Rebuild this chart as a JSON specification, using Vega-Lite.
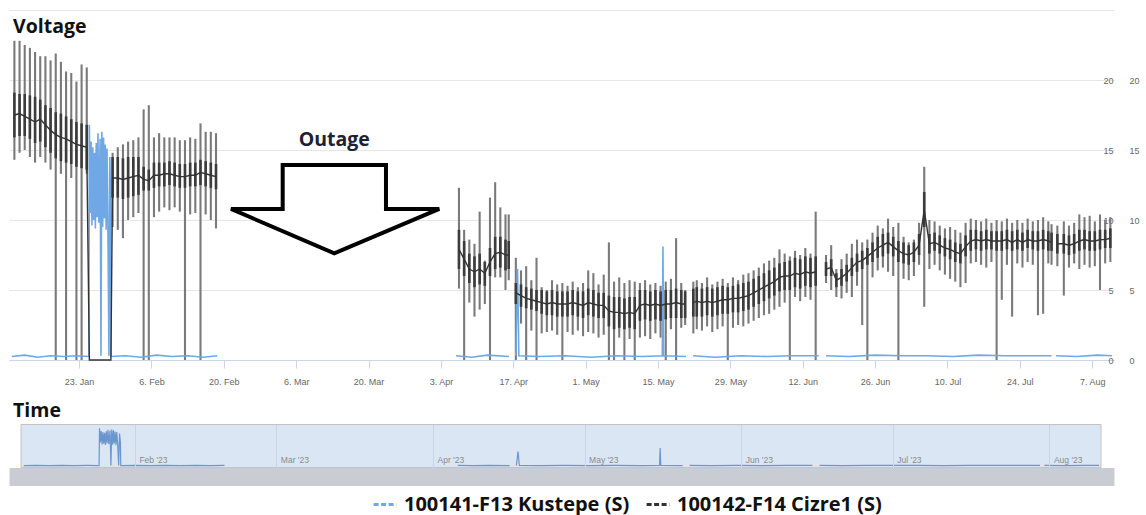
{
"$schema":"https://vega.github.io/schema/vega-lite/v6.json",
"padding":{"left":8,"top":10,"right":0,"bottom":0},
"background":"white",
"config":{"view":{"stroke":null},"axis":{"labelFont":"Liberation Sans"}},
"datasets":{
"cz":[
{"t":"2023-01-10T12:00","hi":22.8,"lo":14.3,"a":15.9,"b":19.1,"m":17.5,"s":1},
{"t":"2023-01-11T12:00","hi":22.8,"lo":14.8,"a":16,"b":19,"m":17.6,"s":1},
{"t":"2023-01-12T12:00","hi":22.5,"lo":15,"a":16,"b":19,"m":17.4,"s":1},
{"t":"2023-01-13T12:00","hi":22.3,"lo":14.5,"a":15.8,"b":18.9,"m":17.2,"s":1},
{"t":"2023-01-14T12:00","hi":22,"lo":14.1,"a":15.5,"b":18.8,"m":17,"s":1},
{"t":"2023-01-15T12:00","hi":21.7,"lo":14.5,"a":15.6,"b":18.6,"m":17.2,"s":1},
{"t":"2023-01-16T12:00","hi":21.7,"lo":14.1,"a":15.2,"b":18.2,"m":16.8,"s":1},
{"t":"2023-01-17T12:00","hi":21.4,"lo":13.6,"a":14.8,"b":18,"m":16.4,"s":1},
{"t":"2023-01-18T12:00","hi":21.9,"lo":0,"a":14.4,"b":17.7,"m":16.1,"s":1},
{"t":"2023-01-19T12:00","hi":21.3,"lo":13.3,"a":14.2,"b":17.6,"m":15.9,"s":1},
{"t":"2023-01-20T12:00","hi":20.6,"lo":0,"a":14.1,"b":17.4,"m":15.8,"s":1},
{"t":"2023-01-21T12:00","hi":20.5,"lo":13,"a":14,"b":17.2,"m":15.6,"s":1},
{"t":"2023-01-22T12:00","hi":19.9,"lo":0,"a":13.8,"b":17,"m":15.4,"s":1},
{"t":"2023-01-23T12:00","hi":21.1,"lo":0,"a":13.7,"b":16.9,"m":15.3,"s":1},
{"t":"2023-01-24T12:00","hi":20.9,"lo":13.3,"a":13.6,"b":16.8,"m":15.2,"s":1},
{"t":"2023-01-25T00:00","hi":0,"lo":0,"a":0,"b":0,"m":0,"s":1},
{"t":"2023-01-29T04:00","hi":0,"lo":0,"a":0,"b":0,"m":0,"s":1},
{"t":"2023-01-29T12:00","hi":14.8,"lo":9.5,"a":11.6,"b":14.5,"m":13,"s":1},
{"t":"2023-01-30T12:00","hi":15.2,"lo":9.3,"a":11.6,"b":14.5,"m":13,"s":1},
{"t":"2023-01-31T12:00","hi":15.4,"lo":8.7,"a":11.5,"b":14.4,"m":12.9,"s":1},
{"t":"2023-02-01T12:00","hi":15.6,"lo":10,"a":11.6,"b":14.5,"m":13,"s":1},
{"t":"2023-02-02T12:00","hi":15.7,"lo":10.2,"a":11.7,"b":14.5,"m":13.1,"s":1},
{"t":"2023-02-03T12:00","hi":15.9,"lo":10.5,"a":11.8,"b":14.5,"m":13.2,"s":1},
{"t":"2023-02-04T12:00","hi":17.9,"lo":0,"a":12.1,"b":13.8,"m":12.9,"s":1},
{"t":"2023-02-05T12:00","hi":18.2,"lo":0,"a":12.1,"b":13.6,"m":12.8,"s":1},
{"t":"2023-02-06T12:00","hi":15.9,"lo":10.2,"a":12.3,"b":14.1,"m":13.2,"s":1},
{"t":"2023-02-07T12:00","hi":16.2,"lo":10.6,"a":12.4,"b":14.1,"m":13.2,"s":1},
{"t":"2023-02-08T12:00","hi":15.9,"lo":10.9,"a":12.4,"b":14.1,"m":13.3,"s":1},
{"t":"2023-02-09T12:00","hi":15.9,"lo":10.7,"a":12.5,"b":14.2,"m":13.3,"s":1},
{"t":"2023-02-10T12:00","hi":15.9,"lo":10.9,"a":12.4,"b":14.1,"m":13.2,"s":1},
{"t":"2023-02-11T12:00","hi":15.7,"lo":10.6,"a":12.3,"b":14,"m":13.1,"s":1},
{"t":"2023-02-12T12:00","hi":15.7,"lo":0,"a":12.3,"b":14,"m":13.1,"s":1},
{"t":"2023-02-13T12:00","hi":15.9,"lo":10.4,"a":12.4,"b":14.1,"m":13.2,"s":1},
{"t":"2023-02-14T12:00","hi":15.8,"lo":10.5,"a":12.4,"b":14.1,"m":13.2,"s":1},
{"t":"2023-02-15T12:00","hi":16.9,"lo":0,"a":12.5,"b":14.3,"m":13.4,"s":1},
{"t":"2023-02-16T12:00","hi":16.3,"lo":10.4,"a":12.4,"b":14.2,"m":13.3,"s":1},
{"t":"2023-02-17T12:00","hi":16.3,"lo":10,"a":12.3,"b":14.1,"m":13.2,"s":1},
{"t":"2023-02-18T12:00","hi":16.2,"lo":9.4,"a":12.2,"b":14,"m":13.1,"s":1},
{"t":"2023-04-06T12:00","hi":12.3,"lo":5.1,"a":6.5,"b":9.3,"m":7.9,"s":2},
{"t":"2023-04-07T12:00","hi":9.3,"lo":0,"a":6,"b":8.5,"m":7.2,"s":2},
{"t":"2023-04-08T12:00","hi":8.6,"lo":4.1,"a":5.5,"b":7.6,"m":6.5,"s":2},
{"t":"2023-04-09T12:00","hi":8.3,"lo":3.1,"a":5.2,"b":7.4,"m":6.3,"s":2},
{"t":"2023-04-10T12:00","hi":10.6,"lo":3.6,"a":5.4,"b":7.6,"m":6.5,"s":2},
{"t":"2023-04-11T12:00","hi":7.1,"lo":4,"a":5.3,"b":7,"m":6.2,"s":2},
{"t":"2023-04-12T12:00","hi":11.6,"lo":0,"a":6,"b":8,"m":7,"s":2},
{"t":"2023-04-13T12:00","hi":12.7,"lo":5.9,"a":6.5,"b":8.8,"m":7.6,"s":2},
{"t":"2023-04-14T12:00","hi":10.9,"lo":5.9,"a":6.6,"b":8.8,"m":7.7,"s":2},
{"t":"2023-04-15T12:00","hi":10.4,"lo":5,"a":6.4,"b":8.6,"m":7.5,"s":2},
{"t":"2023-04-16T03:00","hi":10.4,"lo":5.7,"a":6.5,"b":8.5,"m":7.5,"s":2},
{"t":"2023-04-17T12:00","hi":7.3,"lo":0,"a":4,"b":5.5,"m":4.8,"s":3},
{"t":"2023-04-18T12:00","hi":6.4,"lo":2.6,"a":3.8,"b":5.4,"m":4.6,"s":3},
{"t":"2023-04-19T12:00","hi":6.7,"lo":0,"a":3.7,"b":5.2,"m":4.4,"s":3},
{"t":"2023-04-20T12:00","hi":5.7,"lo":2.1,"a":3.6,"b":5.1,"m":4.3,"s":3},
{"t":"2023-04-21T12:00","hi":7.3,"lo":0,"a":3.5,"b":5,"m":4.2,"s":3},
{"t":"2023-04-22T12:00","hi":5.2,"lo":1.9,"a":3.3,"b":5,"m":4.1,"s":3},
{"t":"2023-04-23T12:00","hi":5,"lo":2,"a":3.2,"b":4.9,"m":4,"s":3},
{"t":"2023-04-24T12:00","hi":5.7,"lo":2.1,"a":3.2,"b":5,"m":4.1,"s":3},
{"t":"2023-04-25T12:00","hi":5.4,"lo":1.8,"a":3.1,"b":4.9,"m":4,"s":3},
{"t":"2023-04-26T12:00","hi":5.5,"lo":0,"a":3.1,"b":4.9,"m":4,"s":3},
{"t":"2023-04-27T12:00","hi":5.3,"lo":2,"a":3.1,"b":4.9,"m":4,"s":3},
{"t":"2023-04-28T12:00","hi":5.6,"lo":1.8,"a":3.2,"b":5,"m":4.1,"s":3},
{"t":"2023-04-29T12:00","hi":5.2,"lo":2.1,"a":3.1,"b":4.9,"m":4,"s":3},
{"t":"2023-04-30T12:00","hi":5.5,"lo":1.7,"a":3,"b":4.9,"m":3.9,"s":3},
{"t":"2023-05-01T12:00","hi":6.4,"lo":2,"a":3.2,"b":5.1,"m":4.1,"s":3},
{"t":"2023-05-02T12:00","hi":6.2,"lo":1.9,"a":3.1,"b":5,"m":4,"s":3},
{"t":"2023-05-03T12:00","hi":5.4,"lo":1.6,"a":3,"b":4.8,"m":3.9,"s":3},
{"t":"2023-05-04T12:00","hi":6.1,"lo":1.8,"a":3,"b":4.8,"m":3.9,"s":3},
{"t":"2023-05-05T12:00","hi":8.4,"lo":0,"a":2.4,"b":4.6,"m":3.5,"s":3},
{"t":"2023-05-06T12:00","hi":5.6,"lo":0,"a":2.2,"b":4.5,"m":3.4,"s":3},
{"t":"2023-05-07T12:00","hi":5.9,"lo":1.6,"a":2.3,"b":4.5,"m":3.4,"s":3},
{"t":"2023-05-08T12:00","hi":5.5,"lo":0,"a":2.2,"b":4.4,"m":3.3,"s":3},
{"t":"2023-05-09T12:00","hi":5.7,"lo":1.5,"a":2.3,"b":4.5,"m":3.4,"s":3},
{"t":"2023-05-10T12:00","hi":5.6,"lo":0,"a":2.2,"b":4.5,"m":3.3,"s":3},
{"t":"2023-05-11T12:00","hi":5.5,"lo":1.6,"a":2.8,"b":5,"m":3.9,"s":3},
{"t":"2023-05-12T12:00","hi":5.7,"lo":1.7,"a":2.9,"b":5,"m":4,"s":3},
{"t":"2023-05-13T12:00","hi":5.4,"lo":1.5,"a":2.8,"b":4.9,"m":3.9,"s":3},
{"t":"2023-05-14T12:00","hi":5.5,"lo":1.9,"a":2.9,"b":5,"m":4,"s":3},
{"t":"2023-05-15T12:00","hi":5.3,"lo":1.6,"a":2.8,"b":4.9,"m":3.9,"s":3},
{"t":"2023-05-16T12:00","hi":5.6,"lo":0,"a":2.9,"b":5,"m":4,"s":3},
{"t":"2023-05-17T12:00","hi":5.8,"lo":2.2,"a":3,"b":5,"m":4,"s":3},
{"t":"2023-05-18T12:00","hi":8.7,"lo":0,"a":3,"b":5.1,"m":4.1,"s":3},
{"t":"2023-05-19T12:00","hi":5.5,"lo":2.3,"a":3,"b":5,"m":4,"s":3},
{"t":"2023-05-20T06:00","hi":5,"lo":2.5,"a":3,"b":4.9,"m":4,"s":3},
{"t":"2023-05-21T20:00","hi":5.6,"lo":1.9,"a":3.1,"b":5.1,"m":4.1,"s":4},
{"t":"2023-05-22T12:00","hi":5.7,"lo":2.2,"a":3.1,"b":5.2,"m":4.2,"s":4},
{"t":"2023-05-23T12:00","hi":5.5,"lo":2.1,"a":3.1,"b":5.1,"m":4.1,"s":4},
{"t":"2023-05-24T12:00","hi":5.9,"lo":2.4,"a":3.2,"b":5.2,"m":4.2,"s":4},
{"t":"2023-05-25T12:00","hi":5.4,"lo":2,"a":3.1,"b":5.1,"m":4.1,"s":4},
{"t":"2023-05-26T12:00","hi":5.6,"lo":2.2,"a":3.2,"b":5.2,"m":4.2,"s":4},
{"t":"2023-05-27T12:00","hi":5.8,"lo":2.4,"a":3.3,"b":5.3,"m":4.3,"s":4},
{"t":"2023-05-28T12:00","hi":5.5,"lo":0,"a":3.3,"b":5.2,"m":4.3,"s":4},
{"t":"2023-05-29T12:00","hi":5.9,"lo":2.3,"a":3.4,"b":5.3,"m":4.4,"s":4},
{"t":"2023-05-30T12:00","hi":5.7,"lo":2.5,"a":3.4,"b":5.4,"m":4.4,"s":4},
{"t":"2023-05-31T12:00","hi":6.1,"lo":2.4,"a":3.5,"b":5.5,"m":4.5,"s":4},
{"t":"2023-06-01T12:00","hi":6.2,"lo":2.6,"a":3.6,"b":5.6,"m":4.6,"s":4},
{"t":"2023-06-02T12:00","hi":6.4,"lo":2.8,"a":3.8,"b":5.8,"m":4.8,"s":4},
{"t":"2023-06-03T12:00","hi":6.6,"lo":3,"a":4,"b":6,"m":5,"s":4},
{"t":"2023-06-04T12:00","hi":6.9,"lo":3.2,"a":4.2,"b":6.2,"m":5.2,"s":4},
{"t":"2023-06-05T12:00","hi":7.1,"lo":3.3,"a":4.4,"b":6.4,"m":5.4,"s":4},
{"t":"2023-06-06T12:00","hi":7.3,"lo":3.6,"a":4.6,"b":6.6,"m":5.6,"s":4},
{"t":"2023-06-07T12:00","hi":7.9,"lo":3.8,"a":4.9,"b":6.9,"m":5.9,"s":4},
{"t":"2023-06-08T12:00","hi":7.6,"lo":4.1,"a":5,"b":7,"m":6,"s":4},
{"t":"2023-06-09T12:00","hi":7.4,"lo":0,"a":5,"b":7.1,"m":6,"s":4},
{"t":"2023-06-10T12:00","hi":7.8,"lo":4.5,"a":5.2,"b":7.3,"m":6.2,"s":4},
{"t":"2023-06-11T12:00","hi":7.5,"lo":4.2,"a":5.1,"b":7.2,"m":6.1,"s":4},
{"t":"2023-06-12T12:00","hi":8,"lo":4.5,"a":5.3,"b":7.4,"m":6.3,"s":4},
{"t":"2023-06-13T12:00","hi":7.6,"lo":4.3,"a":5.2,"b":7.3,"m":6.2,"s":4},
{"t":"2023-06-14T12:00","hi":10.6,"lo":0,"a":5.3,"b":7.4,"m":6.3,"s":4},
{"t":"2023-06-16T12:00","hi":7.5,"lo":5.5,"a":6,"b":7,"m":6.5,"s":5},
{"t":"2023-06-17T12:00","hi":8.2,"lo":5,"a":6,"b":7.2,"m":6.6,"s":5},
{"t":"2023-06-18T12:00","hi":6.5,"lo":4.5,"a":5.2,"b":6.2,"m":5.7,"s":5},
{"t":"2023-06-19T12:00","hi":7.2,"lo":4.4,"a":5.3,"b":6.5,"m":5.9,"s":5},
{"t":"2023-06-20T12:00","hi":7.6,"lo":4.8,"a":5.6,"b":6.8,"m":6.2,"s":5},
{"t":"2023-06-21T12:00","hi":8.3,"lo":4.5,"a":6,"b":7.3,"m":6.6,"s":5},
{"t":"2023-06-22T12:00","hi":8.6,"lo":5.3,"a":6.3,"b":7.6,"m":7,"s":5},
{"t":"2023-06-23T12:00","hi":8.4,"lo":2.5,"a":6.5,"b":7.8,"m":7.1,"s":5},
{"t":"2023-06-24T12:00","hi":8.6,"lo":0,"a":6.8,"b":8,"m":7.4,"s":5},
{"t":"2023-06-25T12:00","hi":9.1,"lo":5.9,"a":7,"b":8.4,"m":7.7,"s":5},
{"t":"2023-06-26T12:00","hi":9.6,"lo":6.4,"a":7.3,"b":8.8,"m":8,"s":5},
{"t":"2023-06-27T12:00","hi":9.4,"lo":6.6,"a":7.4,"b":9,"m":8.2,"s":5},
{"t":"2023-06-28T12:00","hi":10.1,"lo":6.3,"a":7.6,"b":9.1,"m":8.4,"s":5},
{"t":"2023-06-29T12:00","hi":9.5,"lo":6,"a":7.4,"b":8.8,"m":8.1,"s":5},
{"t":"2023-06-30T12:00","hi":9.8,"lo":0,"a":7,"b":8.5,"m":7.8,"s":5},
{"t":"2023-07-01T12:00","hi":8.8,"lo":5.8,"a":6.9,"b":8.4,"m":7.6,"s":5},
{"t":"2023-07-02T12:00","hi":8.4,"lo":5.7,"a":6.8,"b":8.2,"m":7.5,"s":5},
{"t":"2023-07-03T12:00","hi":8.6,"lo":6,"a":7,"b":8.4,"m":7.7,"s":5},
{"t":"2023-07-04T12:00","hi":9.8,"lo":6.8,"a":7.5,"b":9,"m":8.2,"s":5},
{"t":"2023-07-05T12:00","hi":13.8,"lo":3.8,"a":9.5,"b":12,"m":10.7,"s":5},
{"t":"2023-07-06T12:00","hi":10,"lo":6.5,"a":7.6,"b":9,"m":8.3,"s":5},
{"t":"2023-07-07T12:00","hi":9.9,"lo":6.8,"a":7.8,"b":9.1,"m":8.4,"s":5},
{"t":"2023-07-08T12:00","hi":9.6,"lo":6.4,"a":7.6,"b":8.9,"m":8.2,"s":5},
{"t":"2023-07-09T12:00","hi":9.4,"lo":6.1,"a":7.4,"b":8.7,"m":8,"s":5},
{"t":"2023-07-10T12:00","hi":9.5,"lo":5.8,"a":7.2,"b":8.6,"m":7.9,"s":5},
{"t":"2023-07-11T12:00","hi":9.3,"lo":5.6,"a":7,"b":8.4,"m":7.7,"s":5},
{"t":"2023-07-12T12:00","hi":9.1,"lo":5.2,"a":6.9,"b":8.3,"m":7.6,"s":5},
{"t":"2023-07-13T12:00","hi":9.8,"lo":5.5,"a":7.4,"b":8.9,"m":8.1,"s":5},
{"t":"2023-07-14T12:00","hi":10.1,"lo":6.9,"a":7.8,"b":9.3,"m":8.5,"s":5},
{"t":"2023-07-15T12:00","hi":10,"lo":7,"a":7.9,"b":9.3,"m":8.6,"s":5},
{"t":"2023-07-16T12:00","hi":9.9,"lo":6.8,"a":7.8,"b":9.2,"m":8.5,"s":5},
{"t":"2023-07-17T12:00","hi":10.1,"lo":6.6,"a":7.9,"b":9.3,"m":8.6,"s":5},
{"t":"2023-07-18T12:00","hi":9.8,"lo":7,"a":7.9,"b":9.2,"m":8.5,"s":5},
{"t":"2023-07-19T12:00","hi":10,"lo":0,"a":7.8,"b":9.2,"m":8.5,"s":5},
{"t":"2023-07-20T12:00","hi":9.9,"lo":4.3,"a":7.8,"b":9.2,"m":8.5,"s":5},
{"t":"2023-07-21T12:00","hi":10.1,"lo":6.8,"a":7.9,"b":9.3,"m":8.6,"s":5},
{"t":"2023-07-22T12:00","hi":9.8,"lo":3.1,"a":7.8,"b":9.2,"m":8.4,"s":5},
{"t":"2023-07-23T12:00","hi":10,"lo":6.9,"a":7.9,"b":9.3,"m":8.6,"s":5},
{"t":"2023-07-24T12:00","hi":9.8,"lo":6.6,"a":7.8,"b":9.1,"m":8.4,"s":5},
{"t":"2023-07-25T12:00","hi":10.1,"lo":7,"a":8,"b":9.3,"m":8.6,"s":5},
{"t":"2023-07-26T12:00","hi":9.9,"lo":6.8,"a":7.9,"b":9.2,"m":8.5,"s":5},
{"t":"2023-07-27T12:00","hi":10,"lo":3.2,"a":7.8,"b":9.2,"m":8.5,"s":5},
{"t":"2023-07-28T12:00","hi":10.2,"lo":3.3,"a":7.9,"b":9.3,"m":8.6,"s":5},
{"t":"2023-07-29T12:00","hi":9.9,"lo":6.9,"a":7.8,"b":9.2,"m":8.5,"s":5},
{"t":"2023-07-30T03:00","hi":9.7,"lo":6.8,"a":7.8,"b":9.1,"m":8.4,"s":5},
{"t":"2023-07-31T06:00","hi":9.6,"lo":6.7,"a":7.6,"b":9,"m":8.3,"s":6},
{"t":"2023-08-01T12:00","hi":9.9,"lo":4.6,"a":7.6,"b":9,"m":8.3,"s":6},
{"t":"2023-08-02T12:00","hi":9.6,"lo":6.6,"a":7.5,"b":8.9,"m":8.2,"s":6},
{"t":"2023-08-03T12:00","hi":9.8,"lo":6.9,"a":7.6,"b":9,"m":8.3,"s":6},
{"t":"2023-08-04T12:00","hi":10.4,"lo":6.5,"a":7.8,"b":9.3,"m":8.5,"s":6},
{"t":"2023-08-05T12:00","hi":10.2,"lo":6.8,"a":7.9,"b":9.3,"m":8.6,"s":6},
{"t":"2023-08-06T12:00","hi":10.3,"lo":6.6,"a":7.8,"b":9.2,"m":8.5,"s":6},
{"t":"2023-08-07T12:00","hi":9.9,"lo":6.7,"a":7.8,"b":9.2,"m":8.5,"s":6},
{"t":"2023-08-08T12:00","hi":10.4,"lo":5,"a":7.9,"b":9.3,"m":8.6,"s":6},
{"t":"2023-08-09T12:00","hi":10,"lo":6.9,"a":8,"b":9.3,"m":8.6,"s":6},
{"t":"2023-08-10T12:00","hi":10.2,"lo":7,"a":8,"b":9.4,"m":8.7,"s":6}
],
"ku":[
{"t":"2023-01-10T00:00","v":0.25,"s":1},
{"t":"2023-01-12T12:00","v":0.35,"s":1},
{"t":"2023-01-15T00:00","v":0.2,"s":1},
{"t":"2023-01-17T12:00","v":0.3,"s":1},
{"t":"2023-01-20T00:00","v":0.25,"s":1},
{"t":"2023-01-22T12:00","v":0.3,"s":1},
{"t":"2023-01-24T22:00","v":0.25,"s":1},
{"t":"2023-01-25T00:00","v":16.8,"s":1},
{"t":"2023-01-25T04:00","v":10.5,"s":1},
{"t":"2023-01-25T08:00","v":15.6,"s":1},
{"t":"2023-01-25T12:00","v":9.6,"s":1},
{"t":"2023-01-25T16:00","v":15.2,"s":1},
{"t":"2023-01-25T20:00","v":10,"s":1},
{"t":"2023-01-26T00:00","v":14.8,"s":1},
{"t":"2023-01-26T04:00","v":9.4,"s":1},
{"t":"2023-01-26T08:00","v":15.5,"s":1},
{"t":"2023-01-26T12:00","v":10.2,"s":1},
{"t":"2023-01-26T16:00","v":16.2,"s":1},
{"t":"2023-01-26T20:00","v":9.8,"s":1},
{"t":"2023-01-27T02:00","v":15.8,"s":1},
{"t":"2023-01-27T06:00","v":0.3,"s":1},
{"t":"2023-01-27T10:00","v":16.3,"s":1},
{"t":"2023-01-27T14:00","v":9.5,"s":1},
{"t":"2023-01-27T18:00","v":15.9,"s":1},
{"t":"2023-01-27T22:00","v":10.1,"s":1},
{"t":"2023-01-28T02:00","v":15.4,"s":1},
{"t":"2023-01-28T06:00","v":9.3,"s":1},
{"t":"2023-01-28T10:00","v":15.1,"s":1},
{"t":"2023-01-28T14:00","v":9.9,"s":1},
{"t":"2023-01-28T19:00","v":0.3,"s":1},
{"t":"2023-01-28T23:00","v":14.5,"s":1},
{"t":"2023-01-29T03:00","v":10.8,"s":1},
{"t":"2023-01-29T05:00","v":0.25,"s":1},
{"t":"2023-02-01T00:00","v":0.3,"s":1},
{"t":"2023-02-04T00:00","v":0.2,"s":1},
{"t":"2023-02-07T00:00","v":0.35,"s":1},
{"t":"2023-02-10T00:00","v":0.25,"s":1},
{"t":"2023-02-13T00:00","v":0.3,"s":1},
{"t":"2023-02-16T00:00","v":0.2,"s":1},
{"t":"2023-02-18T18:00","v":0.3,"s":1},
{"t":"2023-04-05T22:00","v":0.3,"s":2},
{"t":"2023-04-09T00:00","v":0.2,"s":2},
{"t":"2023-04-12T00:00","v":0.35,"s":2},
{"t":"2023-04-16T04:00","v":0.25,"s":2},
{"t":"2023-04-17T12:00","v":0.3,"s":3},
{"t":"2023-04-17T20:00","v":6.5,"s":3},
{"t":"2023-04-18T02:00","v":0.3,"s":3},
{"t":"2023-04-22T00:00","v":0.25,"s":3},
{"t":"2023-04-27T00:00","v":0.3,"s":3},
{"t":"2023-05-02T00:00","v":0.2,"s":3},
{"t":"2023-05-07T00:00","v":0.3,"s":3},
{"t":"2023-05-12T00:00","v":0.25,"s":3},
{"t":"2023-05-15T20:00","v":0.3,"s":3},
{"t":"2023-05-15T23:00","v":8.1,"s":3},
{"t":"2023-05-16T02:00","v":0.3,"s":3},
{"t":"2023-05-20T10:00","v":0.25,"s":3},
{"t":"2023-05-21T19:00","v":0.3,"s":4},
{"t":"2023-05-26T00:00","v":0.2,"s":4},
{"t":"2023-05-31T00:00","v":0.3,"s":4},
{"t":"2023-06-05T00:00","v":0.25,"s":4},
{"t":"2023-06-10T00:00","v":0.3,"s":4},
{"t":"2023-06-15T02:00","v":0.3,"s":4},
{"t":"2023-06-16T12:00","v":0.3,"s":5},
{"t":"2023-06-21T00:00","v":0.25,"s":5},
{"t":"2023-06-26T00:00","v":0.35,"s":5},
{"t":"2023-07-01T00:00","v":0.3,"s":5},
{"t":"2023-07-06T00:00","v":0.3,"s":5},
{"t":"2023-07-11T00:00","v":0.25,"s":5},
{"t":"2023-07-16T00:00","v":0.35,"s":5},
{"t":"2023-07-21T00:00","v":0.3,"s":5},
{"t":"2023-07-26T00:00","v":0.3,"s":5},
{"t":"2023-07-30T03:00","v":0.3,"s":5},
{"t":"2023-07-31T00:00","v":0.3,"s":6},
{"t":"2023-08-04T00:00","v":0.25,"s":6},
{"t":"2023-08-08T00:00","v":0.35,"s":6},
{"t":"2023-08-10T20:00","v":0.3,"s":6}
],
"arrow":[
{"i":0,"t":"2023-03-03T09:36","v":13.93},
{"i":1,"t":"2023-03-23T09:07","v":13.93},
{"i":2,"t":"2023-03-23T09:07","v":10.79},
{"i":3,"t":"2023-04-02T16:33","v":10.79},
{"i":4,"t":"2023-03-13T09:07","v":7.62},
{"i":5,"t":"2023-02-21T09:36","v":10.79},
{"i":6,"t":"2023-03-03T09:36","v":10.79},
{"i":7,"t":"2023-03-03T09:36","v":13.93}
],
"head":[
{"t":"2023-02-21T09:36","v":10.79,"w":10.79},
{"t":"2023-03-13T09:07","v":10.79,"w":7.62},
{"t":"2023-04-02T16:33","v":10.79,"w":10.79}
]
},
"spacing":14.5,
"resolve":{"scale":{"x":"independent","y":"independent","color":"shared"},"axis":{"x":"independent","y":"independent"},"legend":{"color":"shared"}},
"vconcat":[
{
"width":1105,"height":350,
"layer":[
{"layer":[
{"data":{"name":"cz"},"mark":{"type":"rule","color":"#7a7a7a","strokeWidth":2.1},
"encoding":{
"x":{"field":"t","type":"temporal","scale":{"domain":[{"year":2023,"month":"jan","date":9,"hours":11},{"year":2023,"month":"aug","date":11,"hours":5}]},
"axis":{"title":null,"values":[{"year":2023,"month":"jan","date":23},{"year":2023,"month":"feb","date":6},{"year":2023,"month":"feb","date":20},{"year":2023,"month":"mar","date":6},{"year":2023,"month":"mar","date":20},{"year":2023,"month":"apr","date":3},{"year":2023,"month":"apr","date":17},{"year":2023,"month":"may","date":1},{"year":2023,"month":"may","date":15},{"year":2023,"month":"may","date":29},{"year":2023,"month":"jun","date":12},{"year":2023,"month":"jun","date":26},{"year":2023,"month":"jul","date":10},{"year":2023,"month":"jul","date":24},{"year":2023,"month":"aug","date":7}],
"format":"%-d. %b","labelFontSize":9,"labelColor":"#666666","tickColor":"#ccd6eb","tickSize":8,"domainColor":"#ccd6eb","labelPadding":9,"grid":false,"labelFlush":false}},
"y":{"field":"lo","type":"quantitative","scale":{"domain":[0,25],"nice":false},
"axis":{"title":null,"orient":"right","values":[0,5,10,15,20,25],"labelExpr":"datum.value == 25 ? '' : datum.label","grid":true,"gridColor":"#e6e6e6","domain":false,"ticks":false,"tickSize":0,"labelAlign":"right","labelPadding":-1,"labelFontSize":9,"labelColor":"#666666"}},
"y2":{"field":"hi"}}},
{"data":{"name":"ku"},"mark":{"type":"line","strokeWidth":1.6},
"encoding":{"x":{"field":"t","type":"temporal"},"y":{"field":"v","type":"quantitative"},"detail":{"field":"s"},
"color":{"datum":"100141-F13 Kustepe (S)","type":"nominal","scale":{"domain":["100141-F13 Kustepe (S)","100142-F14 Cizre1 (S)"],"range":["#6fa8e4","#333333"]},
"legend":{"title":null,"orient":"none","legendX":363,"legendY":481.5,"direction":"horizontal","symbolType":"stroke","symbolStrokeWidth":3,"symbolSize":520,"symbolDash":[5,2.5],"labelFont":"Open Sans","labelFontSize":20,"labelFontWeight":"bold","labelColor":"#111111","labelLimit":0,"columnPadding":10,"labelOffset":6,"padding":0}}}},
{"data":{"name":"cz"},"mark":{"type":"rule","color":"#3c3c3c","strokeWidth":2.6},
"encoding":{"x":{"field":"t","type":"temporal"},"y":{"field":"a","type":"quantitative"},"y2":{"field":"b"}}},
{"data":{"name":"cz"},"mark":{"type":"line","strokeWidth":1.4},
"encoding":{"x":{"field":"t","type":"temporal"},"y":{"field":"m","type":"quantitative"},"detail":{"field":"s"},"color":{"datum":"100142-F14 Cizre1 (S)","type":"nominal"}}},
{"data":{"name":"head"},"mark":{"type":"area","color":"white","opacity":1},
"encoding":{"x":{"field":"t","type":"temporal"},"y":{"field":"v","type":"quantitative"},"y2":{"field":"w"}}},
{"data":{"name":"arrow"},"mark":{"type":"line","color":"#000000","strokeWidth":4,"strokeJoin":"miter","strokeCap":"square"},
"encoding":{"x":{"field":"t","type":"temporal"},"y":{"field":"v","type":"quantitative"},"order":{"field":"i","type":"quantitative"}}},
{"data":{"values":[{}]},"mark":{"type":"text","text":"Outage","fontSize":19.5,"fontWeight":"bold","font":"Open Sans","color":"#1c2233","baseline":"middle","align":"center"},
"encoding":{"x":{"datum":{"year":2023,"month":"mar","date":13,"hours":9},"type":"temporal"},"y":{"datum":15.7,"type":"quantitative"}}},
{"data":{"values":[{}]},"mark":{"type":"text","text":"Voltage","fontSize":19.5,"fontWeight":"bold","font":"Open Sans","color":"#111111","baseline":"alphabetic","align":"left","dx":4},
"encoding":{"x":{"datum":{"year":2023,"month":"jan","date":9,"hours":11},"type":"temporal"},"y":{"datum":23.36,"type":"quantitative"}}}
]},
{"data":{"name":"cz"},"mark":{"type":"point","opacity":0},
"encoding":{"x":{"field":"t","type":"temporal"},"y":{"field":"hi","type":"quantitative","scale":{"domain":[0,25],"nice":false},
"axis":{"title":null,"orient":"right","values":[0,5,10,15,20,25],"labelExpr":"datum.value == 25 ? '' : datum.label","grid":false,"domain":false,"ticks":false,"tickSize":0,"labelAlign":"left","labelPadding":15,"labelFontSize":9,"labelColor":"#666666"}}}}
],
"resolve":{"scale":{"y":"independent"},"axis":{"y":"independent"}}
},
{
"width":1105,"height":43,
"title":{"text":"Time","anchor":"start","frame":"bounds","offset":3,"dx":4,"fontSize":19.5,"fontWeight":"bold","font":"Open Sans","color":"#111111"},
"layer":[
{"data":{"values":[{}]},"mark":{"type":"rect","fill":"#dbe6f5","stroke":"#c3c3c3","strokeWidth":1},
"encoding":{
"x":{"datum":{"year":2023,"month":"jan","date":9,"hours":11},"type":"temporal","scale":{"domain":[{"year":2023,"month":"jan","date":7,"hours":2},{"year":2023,"month":"aug","date":13,"hours":18,"minutes":45}]},
"axis":{"title":null,"orient":"bottom","offset":9,"zindex":1,"domain":true,"domainColor":"#c9cdd3","domainWidth":18,"ticks":false,"tickSize":0,"labelPadding":-21,"labelAlign":"left","labelOffset":4,"labelFontSize":8.5,"labelColor":"#8a8a8a","grid":true,"gridColor":"#c6d5ea","values":[{"year":2023,"month":"feb","date":1},{"year":2023,"month":"mar","date":1},{"year":2023,"month":"apr","date":1},{"year":2023,"month":"may","date":1},{"year":2023,"month":"jun","date":1},{"year":2023,"month":"jul","date":1},{"year":2023,"month":"aug","date":1}],"format":"%b '%y","labelFlush":false}},
"x2":{"datum":{"year":2023,"month":"aug","date":11,"hours":5}},
"y":{"datum":18.5,"type":"quantitative","scale":{"domain":[-0.6,18.5],"nice":false,"zero":false},"axis":null},
"y2":{"datum":-0.6}}},
{"data":{"name":"ku"},"mark":{"type":"line","color":"#6a96cf","strokeWidth":1.2},
"encoding":{"x":{"field":"t","type":"temporal"},"y":{"field":"v","type":"quantitative"},"detail":{"field":"s"}}}
]
}
]
}
